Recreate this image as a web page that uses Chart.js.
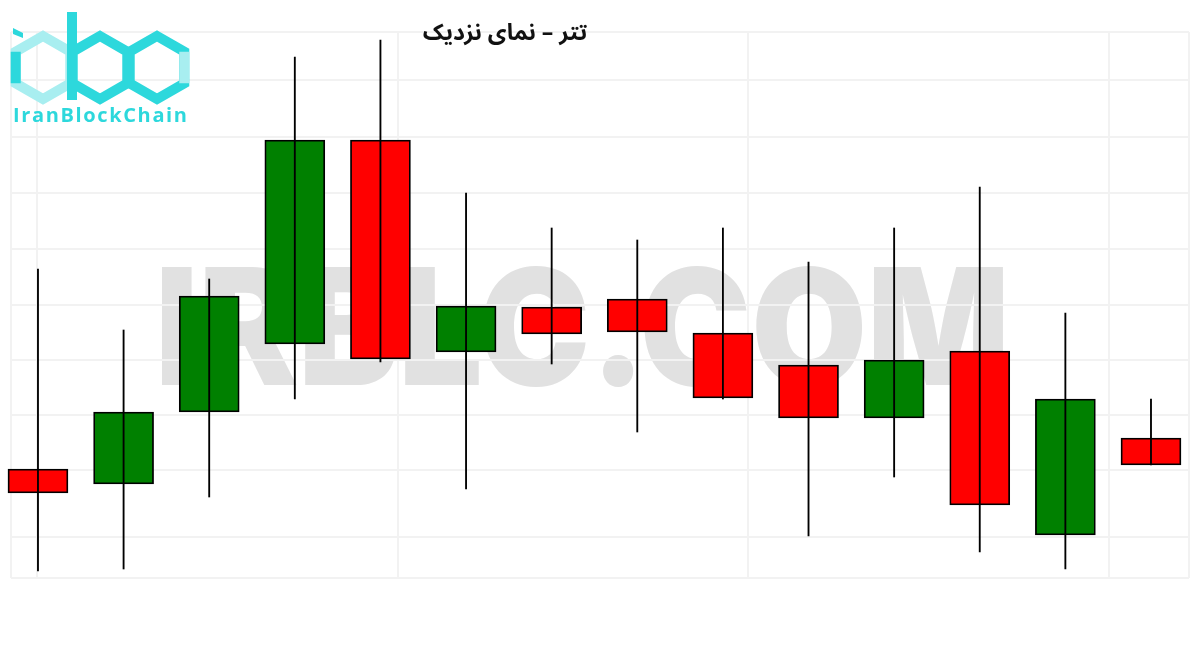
<!DOCTYPE html>
<html>
<head>
<meta charset="utf-8">
<title>تتر – نمای نزدیک</title>
<script src="https://cdn.jsdelivr.net/npm/chart.js@4/dist/chart.umd.min.js"></script>
<style>
  html, body { margin: 0; padding: 0; background: #fff; }
  #wrap { width: 1200px; height: 650px; position: relative; }
</style>
</head>
<body>
<div id="wrap"><canvas id="chart" width="1200" height="650"></canvas></div>
<script>
  // candle data (arbitrary price units)
  var idx   = [0, 1, 2, 3, 4, 5, 6, 7, 8, 9, 10, 11, 12, 13];
  var opens = [131, 116, 188, 256, 460, 248, 293, 301, 267, 235, 182, 249, 65, 162];
  var highs = [331, 270, 321, 543, 560, 407, 372, 360, 372, 338, 372, 413, 287, 201];
  var lows  = [29, 31, 103, 201, 238, 111, 236, 168, 201, 64, 123, 48, 31, 135];
  var closes = [107, 188, 304, 460, 241, 294, 266, 268, 202, 182, 240, 95, 201, 135];

  // faint grid levels seen behind the candles
  var yGrid = [22, 63, 130, 185, 240, 295, 351, 407, 463, 520, 568];
  var xGrid = [-0.315, -0.01, 4.2, 8.29, 12.51, 13.444];

  var TITLE = "تتر – نمای نزدیک";
  var WATERMARK = "IRBLC.COM";
  var BRAND = "IranBlockChain";

  var UP = "#008000", DOWN = "#ff0000", INK = "#000000";
  var CYAN = "#2dd8dc", CYAN_LIGHT = "#a8eef0";
  var GRID = "#f2f2f2";

  var bodies = idx.map(function (i) { return { x: i, y: [opens[i], closes[i]] }; });
  var wicks = idx.map(function (i) { return { x: i, y: [lows[i], highs[i]] }; });
  var bodyColors = idx.map(function (i) { return closes[i] >= opens[i] ? UP : DOWN; });

  // watermark sits under the grid
  var watermark = {
    id: "watermark",
    beforeDraw: function (chart) {
      var c = chart.ctx;
      c.save();
      c.font = "900 162px Inter, Lato, sans-serif";
      c.textBaseline = "alphabetic";
      c.textAlign = "left";
      var w = c.measureText(WATERMARK).width;
      c.translate(155, 385);
      c.scale(855 / w, 1);
      c.fillStyle = "#e1e1e1";
      c.fillText(WATERMARK, 0, 0);
      c.restore();
    }
  };

  function hexPath(c, cx, cy, r) {
    c.beginPath();
    for (var k = 0; k < 6; k++) {
      var a = (Math.PI / 180) * (-90 + 60 * k);
      var px = cx + r * Math.cos(a), py = cy + r * Math.sin(a);
      if (k === 0) c.moveTo(px, py); else c.lineTo(px, py);
    }
    c.closePath();
  }

  function hexSide(c, cx, cy, r, k) {
    var a1 = (Math.PI / 180) * (-90 + 60 * k), a2 = (Math.PI / 180) * (-90 + 60 * (k + 1));
    c.beginPath();
    c.moveTo(cx + r * Math.cos(a1), cy + r * Math.sin(a1));
    c.lineTo(cx + r * Math.cos(a2), cy + r * Math.sin(a2));
    c.stroke();
  }

  // title + logo on top
  var overlay = {
    id: "overlay",
    afterDraw: function (chart) {
      var c = chart.ctx;
      c.save();
      // title
      c.direction = "rtl";
      c.textAlign = "center";
      c.textBaseline = "alphabetic";
      c.fillStyle = "#111";
      c.font = "bold 23px 'Noto Sans Arabic', 'DejaVu Sans', sans-serif";
      c.fillText(TITLE, 505, 40);
      c.direction = "ltr";

      // logo hexagons
      var cy = 67.5, r = 31.5;
      c.lineWidth = 10;
      c.lineJoin = "miter";
      c.strokeStyle = CYAN_LIGHT;
      hexPath(c, 43, cy, r); c.stroke();
      c.strokeStyle = CYAN;
      hexSide(c, 43, cy, r, 4);
      hexPath(c, 100, cy, r); c.stroke();
      hexPath(c, 157, cy, r); c.stroke();
      c.strokeStyle = CYAN_LIGHT;
      hexSide(c, 157, cy, r, 1);
      // b stem and i dot
      c.fillStyle = CYAN;
      c.fillRect(67, 12, 10, 88);
      c.beginPath();
      c.moveTo(13, 28); c.lineTo(23, 33); c.lineTo(23, 38); c.lineTo(13, 34);
      c.closePath(); c.fill();

      // brand text, letter-spaced to fit
      c.font = "bold 20px 'Open Sans', Lato, sans-serif";
      c.textAlign = "left";
      var chars = BRAND.split("");
      var total = 0;
      chars.forEach(function (ch) { total += c.measureText(ch).width; });
      var gap = (174 - total) / (chars.length - 1);
      var x = 13;
      chars.forEach(function (ch) {
        c.fillText(ch, x, 122);
        x += c.measureText(ch).width + gap;
      });
      c.restore();
    }
  };

  new Chart(document.getElementById("chart").getContext("2d"), {
    type: "bar",
    data: {
      datasets: [
        {
          label: "wick",
          data: wicks,
          backgroundColor: INK,
          borderWidth: 0,
          barThickness: 1.2,
          grouped: false,
          clip: false,
          order: 0
        },
        {
          label: "body",
          data: bodies,
          backgroundColor: bodyColors,
          borderColor: INK,
          borderWidth: 1.8,
          borderSkipped: false,
          barThickness: 60,
          grouped: false,
          clip: false,
          order: 1
        }
      ]
    },
    options: {
      responsive: false,
      animation: false,
      events: [],
      layout: { padding: { left: 11, right: 11, top: 32, bottom: 72 } },
      plugins: { legend: { display: false }, tooltip: { enabled: false }, title: { display: false } },
      scales: {
        x: {
          type: "linear",
          offset: false,
          min: xGrid[0],
          max: xGrid[xGrid.length - 1],
          afterBuildTicks: function (s) { s.ticks = xGrid.map(function (v) { return { value: v }; }); },
          ticks: { display: false },
          grid: { color: GRID, lineWidth: 2, drawTicks: false, offset: false },
          border: { display: false }
        },
        y: {
          min: yGrid[0],
          max: yGrid[yGrid.length - 1],
          afterBuildTicks: function (s) { s.ticks = yGrid.map(function (v) { return { value: v }; }); },
          ticks: { display: false },
          grid: { color: GRID, lineWidth: 2, drawTicks: false },
          border: { display: false }
        }
      }
    },
    plugins: [watermark, overlay]
  });
</script>
</body>
</html>
